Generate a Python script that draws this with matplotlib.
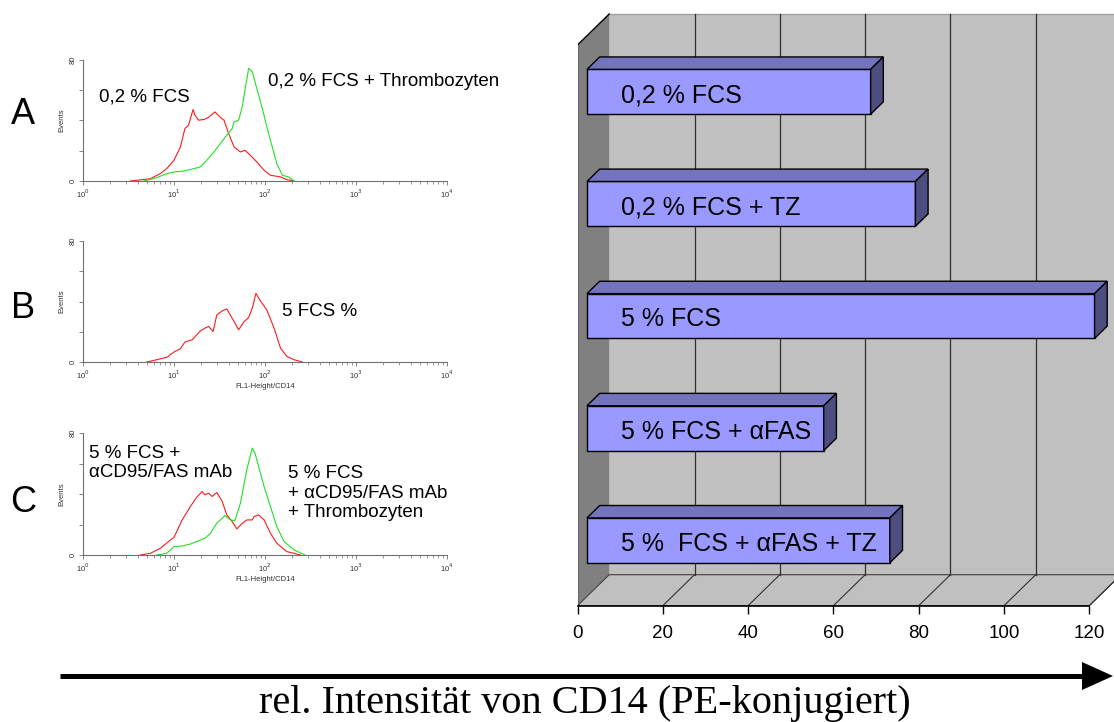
import numpy as np
import matplotlib
matplotlib.use("Agg")
import matplotlib.pyplot as plt
from matplotlib.patches import Polygon, Rectangle
from matplotlib.ticker import LogLocator, NullFormatter

plt.rcParams['font.family'] = ['Liberation Sans', 'DejaVu Sans']

# ---- bar chart data (rel. CD14 intensity) ----
bar_labels = ["0,2 % FCS", "0,2 % FCS + TZ", "5 % FCS",
              "5 % FCS + \u03b1FAS", "5 %  FCS + \u03b1FAS + TZ"]
bar_values = [66.5, 77, 119, 55.5, 71]
x_ticks = [0, 20, 40, 60, 80, 100, 120]

# ---- flow cytometry histograms (log10 of FL1 intensity, events) ----
a_red_log = [0.52, 0.74, 0.85, 0.92, 1.00, 1.07, 1.12, 1.16, 1.21, 1.23, 1.27, 1.33, 1.38,
             1.45, 1.51, 1.55, 1.60, 1.66, 1.73, 1.78, 1.84, 1.91, 1.99, 2.06, 2.17, 2.24, 2.32]
a_red_cnt = [0, 1.5, 4.9, 8.2, 13.7, 22.5, 34.7, 36.9, 47.3, 43.5, 40.2, 40.7, 42.0,
             45.7, 42.0, 40.2, 31.4, 22.5, 19.2, 20.3, 17.0, 12.6, 7.1, 3.8, 2.7, 0.9, 0]
a_green_log = [0.67, 0.81, 0.92, 1.00, 1.11, 1.22, 1.29, 1.36, 1.44, 1.51, 1.58, 1.64, 1.66,
               1.71, 1.75, 1.78, 1.82, 1.86, 1.91, 1.99, 2.02, 2.08, 2.13, 2.19, 2.26, 2.32]
a_green_cnt = [0, 2.2, 4.9, 6.0, 6.6, 8.2, 9.3, 13.7, 19.2, 24.8, 30.3, 34.7, 39.1,
               40.2, 49.1, 60.1, 74.5, 72.3, 61.2, 43.5, 35.8, 22.5, 11.5, 3.8, 2.7, 0]

b_red_log = [0.70, 0.81, 0.92, 1.00, 1.07, 1.12, 1.20, 1.25, 1.29, 1.34, 1.38, 1.43, 1.47, 1.53,
             1.58, 1.64, 1.71, 1.77, 1.82, 1.86, 1.90, 1.95, 2.02, 2.10, 2.17, 2.24, 2.32, 2.41]
b_red_cnt = [0, 1.5, 3.1, 6.6, 8.8, 13.2, 14.7, 18.0, 20.6, 22.4, 23.5, 20.2, 31.1, 33.8,
             35.1, 28.9, 21.3, 26.7, 29.4, 35.5, 45.4, 40.3, 34.4, 22.4, 9.2, 3.7, 1.5, 0]

c_red_log = [0.63, 0.74, 0.85, 0.94, 1.00, 1.09, 1.18, 1.25, 1.31, 1.34, 1.38, 1.42, 1.47, 1.53,
             1.58, 1.64, 1.69, 1.75, 1.80, 1.86, 1.88, 1.93, 1.99, 2.06, 2.13, 2.24, 2.32, 2.39]
c_red_cnt = [0, 1.1, 4.4, 8.8, 11.6, 23.0, 31.8, 37.9, 41.6, 39.5, 40.5, 38.4, 41.0, 35.1,
             26.3, 21.9, 17.1, 20.8, 23.0, 23.0, 25.2, 26.3, 23.0, 14.2, 7.7, 2.2, 1.1, 0]
c_green_log = [0.81, 0.92, 1.00, 1.09, 1.18, 1.25, 1.34, 1.40, 1.47, 1.56, 1.62, 1.67, 1.73,
               1.80, 1.86, 1.89, 1.99, 2.06, 2.13, 2.21, 2.32, 2.44]
c_green_cnt = [0, 1.1, 5.5, 5.9, 7.2, 8.8, 11.0, 14.2, 20.8, 25.9, 23.0, 22.6, 34.0,
               55.9, 70.1, 66.8, 44.9, 31.8, 18.6, 8.8, 3.3, 0]

W, H = 1114, 722
fig = plt.figure(figsize=(W / 100, H / 100), dpi=100)


def rect_px(left, top, right, bottom):
    return [left / W, 1 - bottom / H, (right - left) / W, (bottom - top) / H]


RED = '#ff1a1a'
GREEN = '#22e022'


def flow_panel(top, bottom, curves):
    ax = fig.add_axes(rect_px(83, top, 447, bottom))
    for logx, cnt, col in curves:
        ax.plot(10 ** np.array(logx), cnt, color=col, lw=0.8)
    ax.set_xscale('log')
    ax.set_xlim(1, 1e4)
    ax.set_ylim(0, 80)
    for s in ['top', 'right']:
        ax.spines[s].set_visible(False)
    for s in ['left', 'bottom']:
        ax.spines[s].set_color('#707070')
        ax.spines[s].set_linewidth(0.8)
    ax.set_yticks([0, 20, 40, 60, 80])
    ax.set_yticklabels(['0', '', '', '', '80'], rotation=90, va='center')
    ax.set_xticks([1, 10, 100, 1000, 10000])
    ax.set_xticklabels(['10$^0$', '10$^1$', '10$^2$', '10$^3$', '10$^4$'])
    ax.xaxis.set_minor_locator(LogLocator(base=10, subs=np.arange(2, 10)))
    ax.xaxis.set_minor_formatter(NullFormatter())
    ax.tick_params(which='major', length=3, width=0.6, color='#707070',
                   labelsize=5.5, labelcolor='#303030', pad=1.5)
    ax.tick_params(which='minor', length=1.8, width=0.5, color='#707070')
    ax.set_ylabel('Events', fontsize=5.5, labelpad=3, color='#303030')
    ax.set_xlabel('FL1-Height/CD14', fontsize=5.5, labelpad=2, color='#303030')
    return ax


flow_panel(60, 181, [(a_red_log, a_red_cnt, RED), (a_green_log, a_green_cnt, GREEN)])
flow_panel(241, 362, [(b_red_log, b_red_cnt, RED)])
flow_panel(433, 555, [(c_red_log, c_red_cnt, RED), (c_green_log, c_green_cnt, GREEN)])

# ---- 3D-style horizontal bar chart ----
px_per_unit = (1089.3 - 577.5) / 120.0
x_max = (W - 577.5) / px_per_unit
cat_px = 112.15
y_top = -45 / cat_px
ax = fig.add_axes(rect_px(577.5, 0, W, 605.7))
ax.set_xlim(0, x_max)
ax.set_ylim(5.0, y_top)
n = len(bar_values)
DX = 31.7 / px_per_unit      # depth shift in value units
DY = -31.0 / cat_px          # depth shift in category units (upwards)

# walls and floor
ax.add_patch(Polygon([(DX, DY), (x_max + 10, DY), (x_max + 10, n + DY), (DX, n + DY)],
                     closed=True, facecolor='#c0c0c0', edgecolor='none', zorder=0.5))
ax.plot([DX, x_max + 10], [DY, DY], color='#a0a0a0', lw=1, zorder=0.6)
ax.add_patch(Polygon([(0, 0), (DX, DY), (DX, n + DY), (0, n)], closed=True,
                     facecolor='#808080', edgecolor='none', zorder=0.7))
ax.plot([0, 0, DX], [n, 0, DY], color='black', lw=1, zorder=0.8)
ax.add_patch(Polygon([(0, n), (120, n), (120 + DX, n + DY), (DX, n + DY)], closed=True,
                     facecolor='#c0c0c0', edgecolor='#404040', lw=0.8, zorder=0.7))
for t in x_ticks[1:]:
    ax.plot([t + DX, t + DX], [n + DY, DY], color='#303030', lw=0.9, zorder=0.8)
    ax.plot([t, t + DX], [n, n + DY], color='#303030', lw=0.8, zorder=0.8)

# bars: front face at 30 % depth, 40 % deep
f0, fd, bh = 0.30, 0.40, 0.40
centers = np.arange(n) + 0.5 + f0 * DY
left = f0 * DX
ax.barh(centers, bar_values, left=left, height=bh, color='#9999ff',
        edgecolor='black', linewidth=1.0, zorder=2)
for yc, v, lab in zip(centers, bar_values, bar_labels):
    x1 = left + v
    yt, yb = yc - bh / 2, yc + bh / 2
    ax.add_patch(Polygon([(left, yt), (x1, yt), (x1 + fd * DX, yt + fd * DY),
                          (left + fd * DX, yt + fd * DY)], closed=True,
                         facecolor='#7373bf', edgecolor='black', lw=1.0, zorder=2))
    ax.add_patch(Polygon([(x1, yt), (x1 + fd * DX, yt + fd * DY),
                          (x1 + fd * DX, yb + fd * DY), (x1, yb)], closed=True,
                         facecolor='#4d4d80', edgecolor='black', lw=1.0, zorder=2))
    ax.text(10.2, yc + 0.03, lab, fontsize=18, ha='left', va='center', zorder=3)

for s in ['top', 'right', 'left']:
    ax.spines[s].set_visible(False)
ax.spines['bottom'].set_bounds(0, 120)
ax.spines['bottom'].set_linewidth(1.2)
ax.set_yticks([])
ax.set_xticks(x_ticks)
ax.set_xticklabels([str(t) for t in x_ticks])
ax.tick_params(axis='x', length=6, width=1, direction='out', labelsize=13.5, pad=8)
ax.patch.set_visible(False)

# ---- overlay: panel letters, labels, arrow, caption ----
ov = fig.add_axes([0, 0, 1, 1], zorder=10)
ov.set_xlim(0, W)
ov.set_ylim(H, 0)
ov.axis('off')
ov.patch.set_visible(False)
for lab, yy in zip(['A', 'B', 'C'], [115, 308, 503]):
    ov.text(23, yy, lab, fontsize=26, ha='center', va='center')
ov.text(99, 97, '0,2 % FCS', fontsize=13.5, va='center')
ov.text(268, 81, '0,2 % FCS + Thrombozyten', fontsize=13.5, va='center')
ov.text(282, 311, '5 FCS %', fontsize=13.5, va='center')
ov.text(89, 463, '5 % FCS +\n\u03b1CD95/FAS mAb', fontsize=13.5, va='center', linespacing=1.1)
ov.text(288, 493, '5 % FCS\n+ \u03b1CD95/FAS mAb\n+ Thrombozyten', fontsize=13.5,
        va='center', linespacing=1.2)
# the x-label of panel A is cut off in the original
ov.add_patch(Rectangle((150, 202), 250, 20, facecolor='white', edgecolor='none'))

ov.plot([60, 1086], [676, 676], color='black', lw=3.6, solid_capstyle='butt')
ov.add_patch(Polygon([(1082, 662), (1113, 676), (1082, 690)], closed=True,
                     facecolor='black', edgecolor='none'))
ov.text(585, 704, 'rel. Intensit\u00e4t von CD14 (PE-konjugiert)',
        family=['Liberation Serif', 'DejaVu Serif'], fontsize=29, ha='center', va='center')

fig.savefig('out.png', dpi=100)
